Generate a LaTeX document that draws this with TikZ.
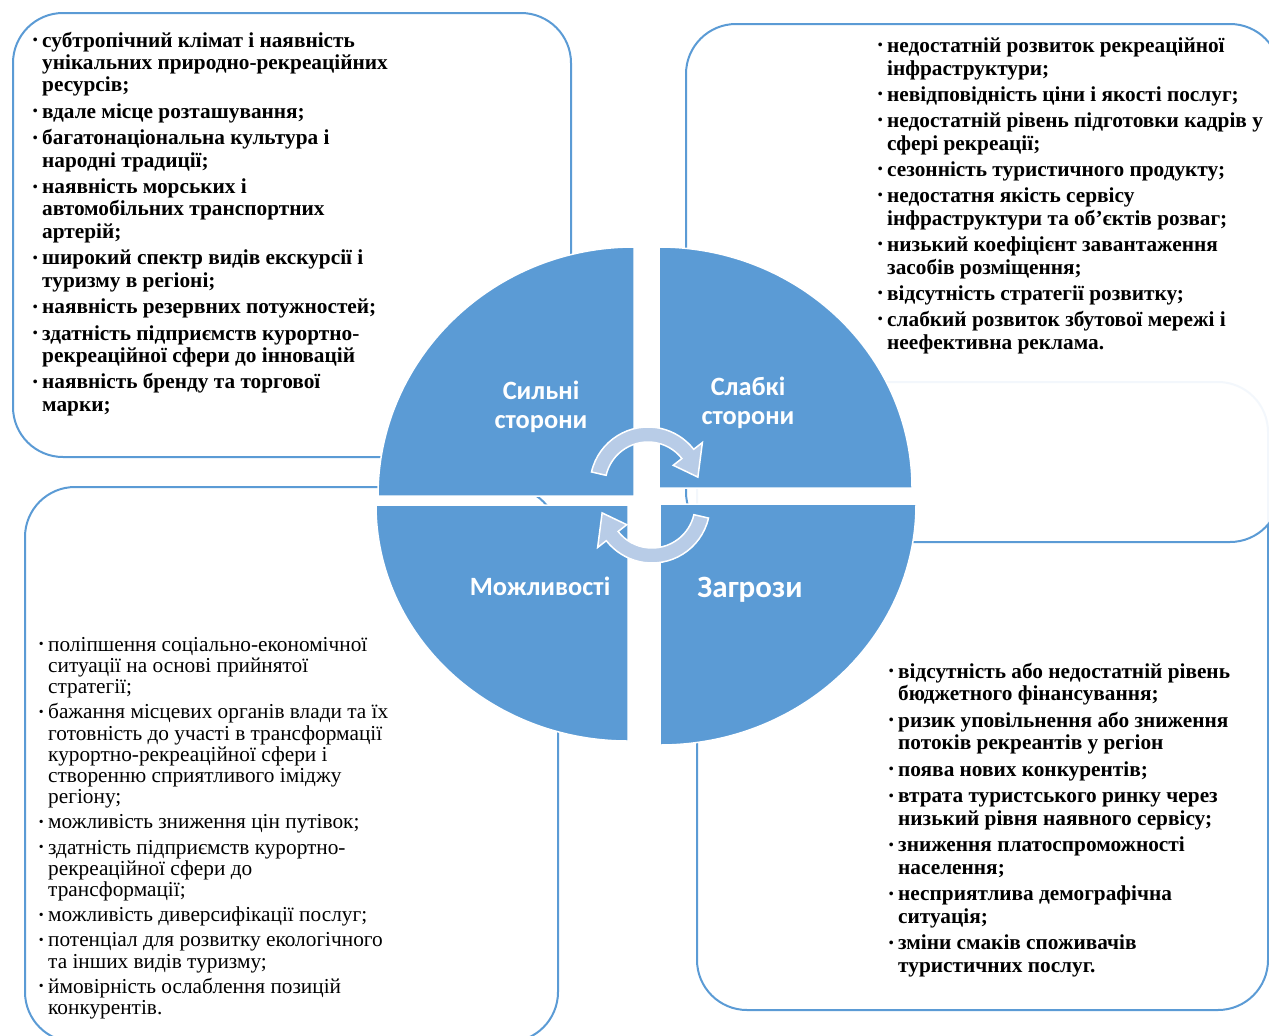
\documentclass[tikz,border=0pt]{standalone}
\usepackage{fontspec}
\setmainfont{Liberation Serif}
\newfontfamily\labelfont{Carlito}
\usepackage{xcolor}
\usepackage{graphicx}
\usetikzlibrary{calc}

\definecolor{swotblue}{RGB}{91,155,213}
\definecolor{arrowblue}{RGB}{184,204,231}

% small bullet hanging left of the text
\newcommand{\bul}{\llap{\raisebox{2.5pt}{\scalebox{0.65}{\textbullet}}\hspace{4.5pt}}}

\begin{document}
\begin{tikzpicture}[x=1pt,y=-1pt,
    swotbox/.style={draw=swotblue,line width=2pt,rounded corners=50pt,fill=white},
    quarter/.style={fill=swotblue,draw=white,line width=1.5pt},
    cyclearrow/.style={fill=arrowblue,draw=white,line width=1.5pt},
    quartertitle/.style={text=white,align=center,inner sep=0pt,
        font=\labelfont\bfseries\fontsize{26.4}{29}\selectfont},
    swotlist/.style={anchor=north west,inner sep=0pt,align=left}]
        \useasboundingbox (0,0) rectangle (1269,1036);
        % boxes behind the circle
        \filldraw[swotbox] (697,382) rectangle (1268,1010);
        \filldraw[swotbox,fill opacity=0.93] (686,24) rectangle (1280,542);
        \filldraw[swotbox] (13,13) rectangle (571,457);
        \filldraw[swotbox] (25,487) rectangle (558,1042);
        % four quarters
        \filldraw[quarter] (634,496) -- ++(-256,0) arc[start angle=180,end angle=270,x radius=256,y radius=249] -- cycle;
        \filldraw[quarter] (659,488) -- ++(0,-241) arc[start angle=270,end angle=360,x radius=253,y radius=241] -- cycle;
        \filldraw[quarter] (628,505) -- ++(-252,0) arc[start angle=180,end angle=90,x radius=252,y radius=236] -- cycle;
        \filldraw[quarter] (660,504) -- ++(256,0) arc[start angle=0,end angle=90,x radius=256,y radius=241] -- cycle;
        % cycle arrows
        \filldraw[cyclearrow] (648,485) ++(-167:58) arc[start angle=-167,end angle=-38,radius=58]
            -- ($(648,485)+(-38:69)$) -- ($(648,485)+(-9:50.5)$) -- ($(648,485)+(-38:32)$)
            -- ($(648,485)+(-38:43)$) arc[start angle=-38,end angle=-167,radius=43] -- cycle;
        \filldraw[cyclearrow] (652,505) ++(13:58) arc[start angle=13,end angle=142,radius=58]
            -- ($(652,505)+(142:69)$) -- ($(652,505)+(171:50.5)$) -- ($(652,505)+(142:32)$)
            -- ($(652,505)+(142:43)$) arc[start angle=142,end angle=13,radius=43] -- cycle;
        % titles
        \node[quartertitle] (strtitle) at (541,407) {Сильні\\сторони};
        \node[quartertitle] (weaktitle) at (748,403) {Слабкі\\сторони};
        \node[quartertitle] (opptitle) at (540,586) {Можливості};
        \node[quartertitle,font=\labelfont\bfseries\fontsize{31}{34}\selectfont] (thrtitle) at (750,590) {Загрози};
        % lists
        \node[swotlist,font=\bfseries\fontsize{21.3}{22.3}\selectfont] (strlist) at (42,31.4) {%
            \strut\bul субтропічний клімат і наявність\\
            унікальних природно-рекреаційних\\
            ресурсів;\\[4.2pt]
            \bul вдале місце розташування;\\[4.2pt]
            \bul багатонаціональна культура і\\
            народні традиції;\\[4.2pt]
            \bul наявність морських і\\
            автомобільних транспортних\\
            артерій;\\[4.2pt]
            \bul широкий спектр видів екскурсії і\\
            туризму в регіоні;\\[4.2pt]
            \bul наявність резервних потужностей;\\[4.2pt]
            \bul здатність підприємств курортно-\\
            рекреаційної сфери до інновацій\\[4.2pt]
            \bul наявність бренду та торгової\\
            марки;};
        \node[swotlist,font=\bfseries\fontsize{21.3}{23}\selectfont] (weaklist) at (887,35.9) {%
            \strut\bul недостатній розвиток рекреаційної\\
            інфраструктури;\\[3pt]
            \bul невідповідність ціни і якості послуг;\\[3pt]
            \bul недостатній рівень підготовки кадрів у\\
            сфері рекреації;\\[3pt]
            \bul сезонність туристичного продукту;\\[3pt]
            \bul недостатня якість сервісу\\
            інфраструктури та об'єктів розваг;\\[3pt]
            \bul низький коефіцієнт завантаження\\
            засобів розміщення;\\[3pt]
            \bul відсутність стратегії розвитку;\\[3pt]
            \bul слабкий розвиток збутової мережі і\\
            неефективна реклама.};
        \node[swotlist,font=\fontsize{21.3}{21.2}\selectfont] (opplist) at (48,636.2) {%
            \strut\bul поліпшення соціально-економічної\\
            ситуації на основі прийнятої\\
            стратегії;\\[4pt]
            \bul бажання місцевих органів влади та їх\\
            готовність до участі в трансформації\\
            курортно-рекреаційної сфери і\\
            створенню сприятливого іміджу\\
            регіону;\\[4pt]
            \bul можливість зниження цін путівок;\\[4pt]
            \bul здатність підприємств курортно-\\
            рекреаційної сфери до\\
            трансформації;\\[4pt]
            \bul можливість диверсифікації послуг;\\[4pt]
            \bul потенціал для розвитку екологічного\\
            та інших видів туризму;\\[4pt]
            \bul ймовірність ослаблення позицій\\
            конкурентів.};
        \node[swotlist,font=\bfseries\fontsize{21.3}{22.5}\selectfont] (thrlist) at (898,662.3) {%
            \strut\bul відсутність або недостатній рівень\\
            бюджетного фінансування;\\[4pt]
            \bul ризик уповільнення або зниження\\
            потоків рекреантів у регіон\\[4pt]
            \bul поява нових конкурентів;\\[4pt]
            \bul втрата туристського ринку через\\
            низький рівня наявного сервісу;\\[4pt]
            \bul зниження платоспроможності\\
            населення;\\[4pt]
            \bul несприятлива демографічна\\
            ситуація;\\[4pt]
            \bul зміни смаків споживачів\\
            туристичних послуг.};
    \end{tikzpicture}
\end{document}
